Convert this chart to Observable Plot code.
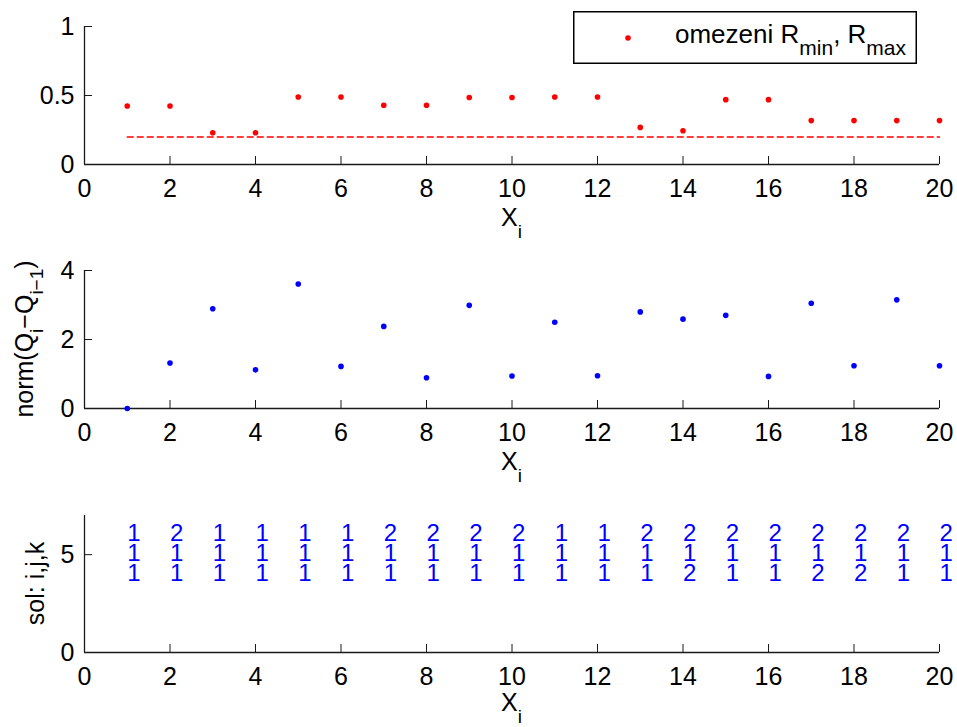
<!DOCTYPE html>
<html>
<head>
<meta charset="utf-8">
<script src="https://cdn.jsdelivr.net/npm/d3@7"></script>
<script src="https://cdn.jsdelivr.net/npm/@observablehq/plot@0.6"></script>
<style>
  body { margin: 0; background: #fff; font-family: "Liberation Sans", Arial, Helvetica, sans-serif; }
  #wrap { position: relative; width: 957px; height: 727px; overflow: hidden; }
  .panel { position: absolute; left: 0; }
  .panel svg { display: block; }
  #legend { position: absolute; left: 573px; top: 11px; }
</style>
</head>
<body>
<div id="wrap"></div>
<script>
// ---- data ----
const xi = [1, 2, 3, 4, 5, 6, 7, 8, 9, 10, 11, 12, 13, 14, 15, 16, 17, 18, 19, 20];
const rVals = [0.424, 0.424, 0.23, 0.23, 0.489, 0.489, 0.429, 0.429, 0.485, 0.485,
               0.489, 0.489, 0.269, 0.245, 0.470, 0.470, 0.318, 0.318, 0.318, 0.318];
const rMin = 0.2;
const normVals = [0, 1.32, 2.89, 1.12, 3.61, 1.22, 2.38, 0.89, 2.99, 0.94,
                  2.50, 0.95, 2.80, 2.59, 2.70, 0.93, 3.05, 1.24, 3.15, 1.24];
const solI = [1, 2, 1, 1, 1, 1, 2, 2, 2, 2, 1, 1, 2, 2, 2, 2, 2, 2, 2, 2];
const solJ = [1, 1, 1, 1, 1, 1, 1, 1, 1, 1, 1, 1, 1, 1, 1, 1, 1, 1, 1, 1];
const solK = [1, 1, 1, 1, 1, 1, 1, 1, 1, 1, 1, 1, 1, 2, 1, 1, 2, 2, 1, 1];
const solLevel = 5;

const xDomain = [0, 20];
const xTicks = [0, 2, 4, 6, 8, 10, 12, 14, 16, 18, 20];
const yDomain1 = [0, 1], yTicks1 = [0, 0.5, 1];
const yDomain2 = [0, 4], yTicks2 = [0, 2, 4];
const yDomain3 = [0, 7], yTicks3 = [0, 5];

const xLabel = [["X", 0], ["i", 1]];
const yLabel2 = [["norm(Q", 0], ["i", 1], ["\u2212Q", 0], ["i\u22121", 1], [")", 0]];
const yLabel3 = [["sol: i,j,k", 0]];
const legendParts = [["omezeni R", 0], ["min", 1], [", R", 0], ["max", 1]];

// ---- helpers ----
const FONT = '"Liberation Sans", Arial, Helvetica, sans-serif';
const AX = "#1a1a1a";
const W = 957, ML = 84, MR = 18;

function richText(sel, parts, {x, y, rotate = 0, size = 25, subSize = 19, shift = 12, anchor = "middle"}) {
  const t = sel.append("text")
    .attr("transform", `translate(${x},${y})` + (rotate ? ` rotate(${rotate})` : ""))
    .attr("text-anchor", anchor)
    .attr("font-family", FONT)
    .attr("font-size", size)
    .attr("fill", "#000");
  let low = false;
  for (const [s, sub] of parts) {
    const ts = t.append("tspan").text(s);
    if (sub) {
      ts.attr("font-size", subSize);
      if (!low) { ts.attr("dy", shift); low = true; }
    } else if (low) {
      ts.attr("dy", -shift); low = false;
    }
  }
  return t;
}

function panel({top, height, marginTop, marginBottom, yDomain, yTicks, xLabelGap, marks}) {
  const plotH = height - marginTop - marginBottom;
  const plotW = W - ML - MR;
  const svg = Plot.plot({
    width: W, height, marginLeft: ML, marginRight: MR, marginTop, marginBottom,
    style: {fontFamily: FONT, fontSize: "25px", background: "transparent", color: "#000", overflow: "visible"},
    x: {domain: xDomain},
    y: {domain: yDomain},
    marks: [
      Plot.axisX(xTicks, {tickSize: 0, tickPadding: 15, label: null, tickFormat: d => `${d}`, fill: "#000"}),
      Plot.axisY(yTicks, {tickSize: 0, tickPadding: 10, label: null, tickFormat: d => `${d}`, fill: "#000"}),
      Plot.ruleX(xTicks, {x: d => d, insetTop: plotH - 8, stroke: AX, strokeWidth: 1}),
      Plot.ruleY(yTicks, {y: d => d, insetRight: plotW - 8, stroke: AX, strokeWidth: 1}),
      Plot.ruleY([yDomain[0]], {stroke: AX, strokeWidth: 1.3}),
      Plot.ruleX([xDomain[0]], {stroke: AX, strokeWidth: 1.3}),
      ...marks
    ]
  });
  const div = document.createElement("div");
  div.className = "panel";
  div.style.top = top + "px";
  div.appendChild(svg);
  document.getElementById("wrap").appendChild(div);
  // x label
  richText(d3.select(svg), xLabel, {x: ML + plotW / 2, y: marginTop + plotH + xLabelGap});
  return {svg, div};
}

// ---- panel 1 ----
const topData = xi.map((x, n) => ({x, y: rVals[n]}));
const minData = xi.map(x => ({x, y: rMin}));
const p1 = panel({
  top: 0, height: 245, marginTop: 26, marginBottom: 81, xLabelGap: 62,
  yDomain: yDomain1, yTicks: yTicks1,
  marks: [
    Plot.line(minData, {x: "x", y: "y", stroke: "#ff0000", strokeWidth: 1.5, strokeDasharray: "6,4"}),
    Plot.dot(topData, {x: "x", y: "y", r: 2.8, fill: "#ff0000", stroke: "none"})
  ]
});

// legend (inside top axes)
{
  const lw = 344, lh = 53;
  const leg = d3.select("#wrap").append("div").attr("id", "legend")
    .append("svg").attr("width", lw).attr("height", lh);
  leg.append("rect").attr("x", 0.75).attr("y", 0.75).attr("width", lw - 1.5).attr("height", lh - 1.5)
    .attr("fill", "#fff").attr("stroke", "#000").attr("stroke-width", 1.5);
  leg.append("circle").attr("cx", 55).attr("cy", 27).attr("r", 2.8).attr("fill", "#ff0000");
  richText(leg, legendParts, {x: 102, y: 31.5, size: 26, subSize: 21, shift: 12.5, anchor: "start"});
}

// ---- panel 2 ----
const normData = xi.map((x, n) => ({x, y: normVals[n]}));
const p2 = panel({
  top: 245, height: 245, marginTop: 25, marginBottom: 82, xLabelGap: 62,
  yDomain: yDomain2, yTicks: yTicks2,
  marks: [
    Plot.dot(normData, {x: "x", y: "y", r: 2.8, fill: "#0000ff", stroke: "none"})
  ]
});
richText(d3.select(p2.svg), yLabel2, {x: 33, y: 94, rotate: -90, size: 25, subSize: 19, shift: 10});

// ---- panel 3 ----
const solData = xi.map((x, n) => ({x, y: solLevel, i: solI[n], j: solJ[n], k: solK[n]}));
const p3 = panel({
  top: 490, height: 237, marginTop: 25, marginBottom: 75, xLabelGap: 59,
  yDomain: yDomain3, yTicks: yTicks3,
  marks: [
    Plot.text(solData, {
      x: "x", y: "y", text: d => `${d.i}\n${d.j}\n${d.k}`,
      textAnchor: "start", lineAnchor: "middle", lineHeight: 0.82,
      fill: "#0000ff", fontSize: 24
    })
  ]
});
richText(d3.select(p3.svg), yLabel3, {x: 43.5, y: 93.5, rotate: -90, size: 25});
</script>
</body>
</html>
